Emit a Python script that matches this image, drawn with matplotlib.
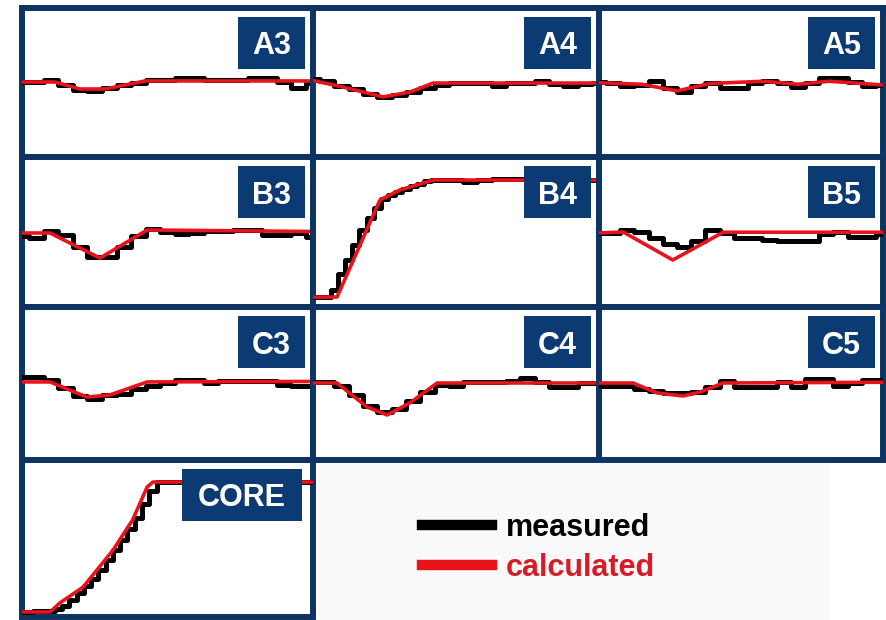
import matplotlib.pyplot as plt
from matplotlib.patches import Rectangle
from matplotlib.lines import Line2D

# sample positions of the measured traces (percent of panel width)
t = list(range(0, 101, 5))

# measured (black, stepped) and calculated (red) traces, percent of panel height
a3_meas = [50, 50, 51.3, 48, 44.6, 44, 45.8, 48, 49.3, 51.3, 51.3, 52.5, 52.5, 51.5, 51.3, 51.3, 53, 53, 50, 46, 49]
a3_calc_x = [0, 11.3, 19.9, 28.5, 42.3, 100]
a3_calc_y = [50, 50, 45.3, 45.3, 50.7, 50.7]

a4_meas = [52, 51, 47.5, 45, 42, 40, 41, 43, 46, 48, 49.5, 49.5, 49.5, 47.5, 49, 49.5, 51, 48.5, 47, 48.5, 49]
a4_calc_x = [0, 10.5, 24.5, 34, 42, 100]
a4_calc_y = [51, 46.6, 40, 43.3, 49.3, 49.3]

a5_meas = [50, 49.5, 47.5, 48, 50.5, 46, 43.5, 47, 49.5, 46, 46, 49, 51, 49, 46.5, 49, 52.5, 52.5, 50, 47.5, 48]
a5_calc_x = [0, 15, 27.5, 39, 58, 70, 81, 100]
a5_calc_y = [49.5, 48.5, 44, 49, 50.5, 48.5, 50.5, 48]

b3_meas = [47, 46, 50.5, 48, 40, 33, 33, 40, 47, 51.5, 50, 48.5, 49, 50.5, 50.5, 51, 51, 48, 47.5, 49, 46.5]
b3_calc_x = [0, 9.6, 26.8, 43, 100]
b3_calc_y = [49, 49, 32.3, 51, 50]

b4_t = [0, 2.5, 5, 7.5, 10, 12.5, 15, 17.5, 20, 22.5, 25, 27.5, 30, 32.5, 35, 37.5, 40, 42.5, 45,
        50, 55, 60, 65, 70, 75, 80, 85, 90, 95, 100]
b4_meas = [6.5, 6.5, 6.5, 11, 22, 31, 41, 51, 59, 66, 71.5, 74.5, 76.5, 78.5, 80.5, 82, 83.5, 84.3, 84.5,
           84.5, 83, 84.5, 85, 85, 85, 84.5, 85, 85, 84.5, 84.5]
b4_calc_x = [0, 8.4, 23.4, 30.4, 42, 100]
b4_calc_y = [6.3, 6.3, 71, 77.7, 84.3, 84.3]

b5_meas = [49, 49, 51, 50, 45.5, 42, 39.5, 44, 51, 49, 45.5, 45.5, 44.5, 43.5, 43.5, 44, 48.5, 49.5, 46.5, 46.5, 48.5]
b5_calc_x = [0, 8.5, 26, 43.7, 100]
b5_calc_y = [49, 49.7, 31, 49.5, 49.5]

c3_meas = [54, 54, 52, 47, 41.5, 39.5, 42, 43, 46, 48, 50, 52, 52, 50, 51.3, 51.3, 51.3, 51.3, 49, 48, 48]
c3_calc_x = [0, 9.6, 22.3, 30.2, 43, 100]
c3_calc_y = [50.7, 50.7, 40.8, 42.2, 50.7, 51]

c4_meas = [50.5, 50.5, 48, 42, 35, 31, 33, 38, 44, 49, 48, 50.5, 50.5, 50.5, 51.5, 53, 50.5, 47.5, 47.5, 50, 50]
c4_calc_x = [0, 8.4, 18.9, 25.9, 33.9, 43.4, 100]
c4_calc_y = [50, 50, 34.3, 29.1, 37, 50, 50]

c5_meas = [48, 48, 48, 46, 45, 43.5, 43.5, 44, 47.5, 51, 47.5, 47.5, 47.5, 50.7, 47.4, 52.6, 52.6, 48, 50, 52, 52]
c5_calc_x = [0, 12, 20.4, 29.6, 35.6, 43.7, 100]
c5_calc_y = [50, 50, 43.5, 41.5, 44.1, 50, 50.5]

core_t = [0, 2.5, 5, 7.5, 10, 12.5, 15, 17.5, 20, 22.5, 25, 27.5, 30, 32.5, 35, 37.5, 40, 42.5, 45, 47.5,
          50, 55, 60, 65, 70, 75, 80, 85, 90, 95, 100]
core_meas = [3, 3, 3.5, 3.5, 3.5, 5, 7, 11, 15, 19.5, 24, 30, 36, 42.5, 49, 56, 63, 72, 80, 85.7,
             85.7, 85.7, 85.7, 85.7, 85.7, 85.7, 85.7, 85.7, 85.7, 85.7, 85.7]
core_calc_x = [0, 9.6, 13, 21, 31.3, 38, 43, 45, 100]
core_calc_y = [3.2, 3.2, 8.9, 19, 42.5, 61.6, 82.5, 85.7, 85.7]

names = ['A3', 'A4', 'A5', 'B3', 'B4', 'B5', 'C3', 'C4', 'C5', 'CORE']
legend_labels = ['measured', 'calculated']

W, H = 887, 620
NAVY = '#0e3463'
BOX = '#0c3a72'
RED = '#e8131b'
FONT = 'Liberation Sans'

col_edges = [22, 313, 599, 883]
row_edges = [7.5, 156.5, 306.5, 459.5, 617]


def px_rect(x0, y0, x1, y1):
    return [x0 / W, 1 - y1 / H, (x1 - x0) / W, (y1 - y0) / H]


fig = plt.figure(figsize=(W / 100, H / 100), dpi=100)

# legend area
lax = fig.add_axes(px_rect(318, 463, 830, 620))
lax.set_facecolor('#f9f8fa')
lax.set_xticks([])
lax.set_yticks([])
for s in lax.spines.values():
    s.set_visible(False)

series = [
    (t, a3_meas, a3_calc_x, a3_calc_y), (t, a4_meas, a4_calc_x, a4_calc_y), (t, a5_meas, a5_calc_x, a5_calc_y),
    (t, b3_meas, b3_calc_x, b3_calc_y), (b4_t, b4_meas, b4_calc_x, b4_calc_y), (t, b5_meas, b5_calc_x, b5_calc_y),
    (t, c3_meas, c3_calc_x, c3_calc_y), (t, c4_meas, c4_calc_x, c4_calc_y), (t, c5_meas, c5_calc_x, c5_calc_y),
    (core_t, core_meas, core_calc_x, core_calc_y),
]

for i, (name, (mx, meas, cx, cy)) in enumerate(zip(names, series)):
    r, c = divmod(i, 3)
    x0, x1 = col_edges[c], col_edges[c + 1]
    y0, y1 = row_edges[r], row_edges[r + 1]
    ax = fig.add_axes(px_rect(x0, y0, x1, y1))
    ax.set_xlim(0, 100)
    ax.set_ylim(0, 100)
    ax.set_xticks([])
    ax.set_yticks([])
    for s in ax.spines.values():
        s.set_color(NAVY)
        s.set_linewidth(4.3)
    ax.plot(mx, meas, color='black', lw=3.6, drawstyle='steps-mid', zorder=3)
    ax.plot(cx, cy, color=RED, lw=2.6, zorder=4)

    # label box in the top-right corner
    bw = 120 if name == 'CORE' else 67
    bh = 52
    bx1 = x1 - (11 if name == 'CORE' else 8)
    by0 = y0 + 9.5
    fig.add_artist(Rectangle(((bx1 - bw) / W, 1 - (by0 + bh) / H), bw / W, bh / H,
                             transform=fig.transFigure, facecolor=BOX, edgecolor='none', zorder=5))
    fig.text((bx1 - bw / 2) / W, 1 - (by0 + bh / 2) / H, name, color='white', fontsize=22,
             fontweight='bold', family=FONT, ha='center', va='center_baseline', zorder=6)

handles = [Line2D([], [], color='black', lw=7.5), Line2D([], [], color=RED, lw=7.5)]
lax.legend(handles, legend_labels, loc='center left',
           bbox_to_anchor=((422 - 318) / 512, (620 - 548) / 157),
           frameon=False, prop={'family': FONT, 'weight': 'bold', 'size': 22},
           handlelength=2.3, handletextpad=0.45, labelspacing=0.32,
           borderpad=0, borderaxespad=0, labelcolor=['black', '#d81c25'])

fig.savefig('out.png', dpi=100, facecolor='white')
